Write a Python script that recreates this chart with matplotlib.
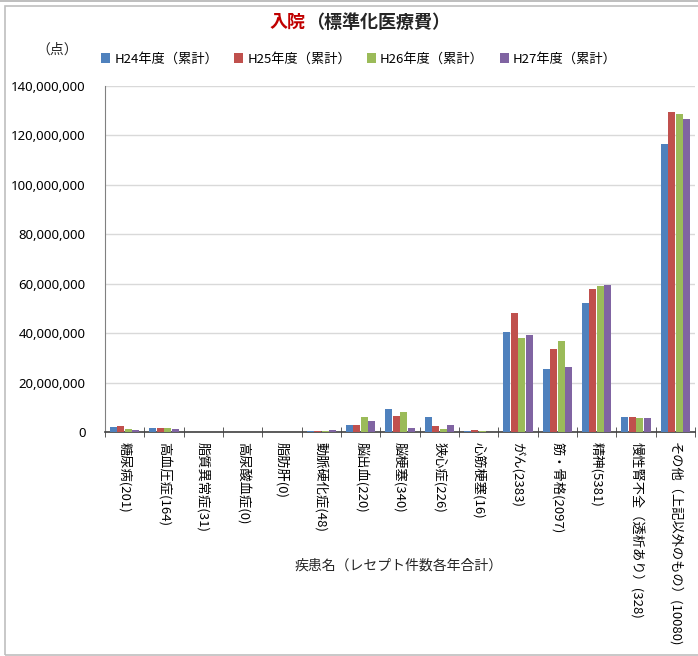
import numpy as np
import matplotlib
matplotlib.use("Agg")
import matplotlib.pyplot as plt
from matplotlib.patches import Rectangle
from matplotlib.ticker import FuncFormatter

plt.rcParams['font.family'] = ['Noto Sans CJK JP', 'DejaVu Sans']

diseases = ["糖尿病(201)", "高血圧症(164)", "脂質異常症(31)", "高尿酸血症(0)", "脂肪肝(0)",
            "動脈硬化症(48)", "脳出血(220)", "脳梗塞(340)", "狭心症(226)", "心筋梗塞(16)",
            "がん(2383)", "筋・骨格(2097)", "精神(5381)", "慢性腎不全（透析あり）(328)",
            "その他（上記以外のもの）(10080)"]
years = ["H24年度（累計）", "H25年度（累計）", "H26年度（累計）", "H27年度（累計）"]

h24 = [2.0e6, 1.6e6, 0.15e6, 0, 0, 0.3e6, 3.0e6, 9.4e6, 6.2e6, 0.5e6, 40.3e6, 25.6e6, 52.2e6, 6.2e6, 116.6e6]
h25 = [2.5e6, 1.6e6, 0.1e6, 0, 0, 0.5e6, 3.0e6, 6.6e6, 2.6e6, 0.8e6, 48.3e6, 33.6e6, 58.0e6, 6.2e6, 129.5e6]
h26 = [1.3e6, 1.7e6, 0.05e6, 0, 0, 0.6e6, 6.2e6, 8.1e6, 1.1e6, 0.5e6, 38.2e6, 37.0e6, 59.1e6, 5.8e6, 128.7e6]
h27 = [0.9e6, 1.1e6, 0, 0, 0, 0.9e6, 4.5e6, 1.7e6, 2.8e6, 0.1e6, 39.3e6, 26.3e6, 59.5e6, 5.8e6, 126.7e6]

colors = ["#4F81BD", "#C0504D", "#9BBB59", "#8064A2"]

fig = plt.figure(figsize=(6.98, 6.56), dpi=100)
ax = fig.add_axes([105 / 698, 1 - 432 / 656, 590 / 698, 346 / 656])

x = np.arange(len(diseases))
w = 0.175
step = 0.19
for i, vals in enumerate([h24, h25, h26, h27]):
    ax.bar(x + (i - 1.5) * step, vals, width=w, color=colors[i], label=years[i], zorder=3)

ax.set_xlim(-0.5, len(diseases) - 0.5)
ax.set_ylim(0, 140e6)
ax.set_yticks(np.arange(0, 140e6 + 1, 20e6))
ax.yaxis.set_major_formatter(FuncFormatter(lambda v, p: "{:,.0f}".format(v)))
ax.grid(axis='y', color='#D9D9D9', linewidth=1, zorder=0)
ax.tick_params(axis='y', length=0, labelsize=9.5, pad=14)
for t in ax.get_yticklabels():
    t.set_family(['Noto Sans', 'DejaVu Sans'])

ax.set_xticks(x)
ax.set_xticklabels(diseases, rotation=-90, va='top', ha='center', fontsize=9.5)
ax.tick_params(axis='x', length=0, pad=7)
ax.set_xticks(np.arange(-0.5, len(diseases)), minor=True)
ax.tick_params(axis='x', which='minor', direction='inout', length=7, color='#404040')

for s in ['top', 'right']:
    ax.spines[s].set_visible(False)
ax.spines['left'].set_color('#808080')
ax.spines['bottom'].set_color('#404040')
ax.spines['bottom'].set_linewidth(1.2)

# title, two colours
fig.text(306 / 698, 1 - 22 / 656, "入院", color='#C00000', fontsize=13,
         fontweight='bold', ha='right', va='center')
fig.text(306 / 698, 1 - 22 / 656, "（標準化医療費）", color='#262626', fontsize=13,
         fontweight='bold', ha='left', va='center')

fig.text(57 / 698, 1 - 50 / 656, "（点）", fontsize=10, ha='center', va='center', color='#262626')

fig.legend(loc='center', bbox_to_anchor=(359 / 698, 1 - 59 / 656), ncol=4, frameon=False,
           fontsize=9.5, handlelength=0.7, handleheight=0.7, handletextpad=0.3,
           columnspacing=1.2)

fig.text(399 / 698, 1 - 566 / 656, "疾患名（レセプト件数各年合計）", fontsize=10,
         ha='center', va='center', color='#262626')

fig.patches.append(Rectangle((4.5 / 698, 1 / 656), 1.2, 1 - 7 / 656, transform=fig.transFigure,
                             fill=False, edgecolor='#BFBFBF', linewidth=1.2))
fig.patches.append(Rectangle((0, 1 - 2 / 656), 1, 2 / 656, transform=fig.transFigure,
                             color='#BFBFBF', linewidth=0))

fig.savefig("out.png", dpi=100)
